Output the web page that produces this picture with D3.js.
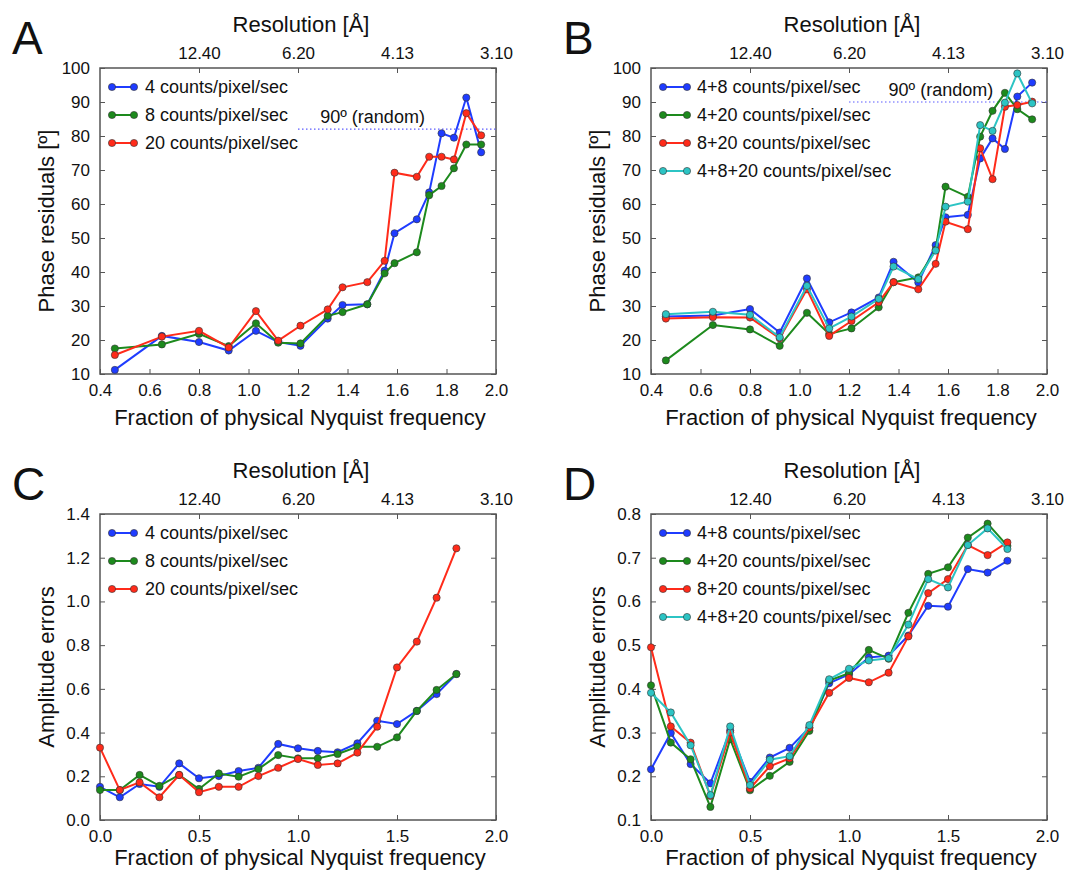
<!DOCTYPE html>
<html>
<head>
<meta charset="utf-8">
<script src="https://cdn.jsdelivr.net/npm/d3@7"></script>
<style>
  body { margin: 0; background: #fff; }
  text { font-family: "Liberation Sans", Arial, Helvetica, sans-serif; fill: #111; }
</style>
</head>
<body>
<svg id="fig" width="1071" height="872"></svg>
<script>
// x positions (fraction of physical Nyquist)
var fracAB = [0.46, 0.65, 0.80, 0.92, 1.03, 1.12, 1.21, 1.32, 1.38, 1.48, 1.55, 1.59, 1.68, 1.73, 1.78, 1.83, 1.88, 1.94];
var fracCD = [0.0, 0.1, 0.2, 0.3, 0.4, 0.5, 0.6, 0.7, 0.8, 0.9, 1.0, 1.1, 1.2, 1.3, 1.4, 1.5, 1.6, 1.7, 1.8];

// panel A: phase residuals, single dose rates
var phaseA4  = [11.2, 21.2, 19.4, 16.9, 22.7, 19.4, 18.3, 26.3, 30.3, 30.5, 40.4, 51.4, 55.5, 63.4, 80.8, 79.5, 91.3, 75.2];
var phaseA8  = [17.5, 18.7, 21.8, 18.2, 24.9, 19.2, 19.0, 27.1, 28.2, 30.5, 39.6, 42.6, 45.8, 62.6, 65.3, 70.5, 77.5, 77.5];
var phaseA20 = [15.6, 21.0, 22.7, 17.8, 28.5, 19.8, 24.2, 29.0, 35.5, 37.0, 43.3, 69.2, 68.0, 73.9, 73.9, 73.1, 86.7, 80.2];

// panel B: phase residuals, combined dose rates
var phaseB48   = [26.9, 27.2, 29.1, 22.2, 38.1, 25.2, 28.1, 32.5, 43.0, 36.9, 47.9, 56.1, 56.8, 73.4, 79.3, 76.2, 91.6, 95.7];
var phaseB420  = [14.0, 24.4, 23.1, 18.3, 28.0, 21.8, 23.4, 29.6, 37.0, 38.4, 46.5, 65.1, 62.1, 79.8, 87.4, 92.7, 87.9, 84.9];
var phaseB820  = [26.3, 26.7, 26.6, 20.5, 34.9, 21.2, 25.6, 31.1, 37.0, 34.9, 42.4, 54.8, 52.6, 76.4, 67.3, 88.6, 89.1, 90.1];
var phaseB4820 = [27.6, 28.3, 27.4, 20.8, 35.9, 23.4, 26.9, 32.1, 41.6, 37.9, 46.3, 59.2, 60.7, 83.2, 81.5, 89.8, 98.4, 89.6];

// panel C: amplitude errors, single dose rates
var ampC4  = [0.152, 0.104, 0.165, 0.152, 0.259, 0.191, 0.201, 0.224, 0.239, 0.348, 0.328, 0.316, 0.310, 0.351, 0.454, 0.439, 0.499, 0.576, 0.668];
var ampC8  = [0.137, 0.137, 0.206, 0.156, 0.206, 0.142, 0.213, 0.198, 0.233, 0.297, 0.282, 0.282, 0.302, 0.335, 0.335, 0.378, 0.499, 0.595, 0.668];
var ampC20 = [0.331, 0.137, 0.172, 0.104, 0.206, 0.127, 0.152, 0.152, 0.201, 0.239, 0.279, 0.252, 0.259, 0.308, 0.427, 0.698, 0.816, 1.017, 1.243];

// panel D: amplitude errors, combined dose rates
var ampD48   = [0.216, 0.299, 0.228, 0.184, 0.305, 0.187, 0.243, 0.265, 0.311, 0.413, 0.433, 0.472, 0.476, 0.522, 0.590, 0.588, 0.674, 0.666, 0.693];
var ampD420  = [0.408, 0.277, 0.239, 0.130, 0.285, 0.168, 0.201, 0.233, 0.304, 0.419, 0.436, 0.489, 0.469, 0.574, 0.663, 0.678, 0.746, 0.778, 0.727];
var ampD820  = [0.495, 0.314, 0.277, 0.155, 0.300, 0.172, 0.223, 0.241, 0.311, 0.391, 0.425, 0.415, 0.437, 0.520, 0.619, 0.651, 0.729, 0.706, 0.735];
var ampD4820 = [0.391, 0.346, 0.271, 0.157, 0.314, 0.180, 0.238, 0.246, 0.317, 0.422, 0.446, 0.465, 0.470, 0.547, 0.651, 0.632, 0.729, 0.767, 0.720];

var namesSingle = ["4 counts/pixel/sec", "8 counts/pixel/sec", "20 counts/pixel/sec"];
var namesCombined = ["4+8 counts/pixel/sec", "4+20 counts/pixel/sec", "8+20 counts/pixel/sec", "4+8+20 counts/pixel/sec"];

var resTicks = [0.5, 1.0, 1.5, 2.0];
var resLabels = ["12.40", "6.20", "4.13", "3.10"];
var xTicksAB = [0.4, 0.6, 0.8, 1.0, 1.2, 1.4, 1.6, 1.8, 2.0];
var xTicksCD = [0.0, 0.5, 1.0, 1.5, 2.0];
var yTicksPhase = [10, 20, 30, 40, 50, 60, 70, 80, 90, 100];
var yTicksC = [0.0, 0.2, 0.4, 0.6, 0.8, 1.0, 1.2, 1.4];
var yTicksD = [0.1, 0.2, 0.3, 0.4, 0.5, 0.6, 0.7, 0.8];
var randomLevelA = 82;
var randomLevelB = 90;

var COLORS = ["#1f3cff", "#1d8a1d", "#ff2b1a", "#2cc4c4"];
var PLOT_W = 396, PLOT_H = 306;

function main() {
    var svg = d3.select("#fig");
    svg.append("rect").attr("width", 1071).attr("height", 872).attr("fill", "#fff");

    drawPanel(svg, {
        letter: "A", left: 100, top: 68, xTitleGap: 51,
        xDomain: [0.4, 2.0], xTicks: xTicksAB, xFmt: d3.format(".1f"),
        yDomain: [10, 100], yTicks: yTicksPhase, yFmt: d3.format("d"),
        yTitle: "Phase residuals [\u00ba]",
        x: fracAB, series: [phaseA4, phaseA8, phaseA20], names: namesSingle,
        legendLine: [12, 34], legendText: 45,
        randomLevel: randomLevelA, randomTextX: 1.29
    });
    drawPanel(svg, {
        letter: "B", left: 651, top: 68, xTitleGap: 51,
        xDomain: [0.4, 2.0], xTicks: xTicksAB, xFmt: d3.format(".1f"),
        yDomain: [10, 100], yTicks: yTicksPhase, yFmt: d3.format("d"),
        yTitle: "Phase residuals [\u00ba]",
        x: fracAB, series: [phaseB48, phaseB420, phaseB820, phaseB4820], names: namesCombined,
        legendLine: [12, 36], legendText: 46,
        randomLevel: randomLevelB, randomTextX: 1.36
    });
    drawPanel(svg, {
        letter: "C", left: 100, top: 514, xTitleGap: 45,
        xDomain: [0, 2.0], xTicks: xTicksCD, xFmt: d3.format(".1f"),
        yDomain: [0, 1.4], yTicks: yTicksC, yFmt: d3.format(".1f"),
        yTitle: "Amplitude errors",
        x: fracCD, series: [ampC4, ampC8, ampC20], names: namesSingle,
        legendLine: [12, 34], legendText: 45
    });
    drawPanel(svg, {
        letter: "D", left: 651, top: 514, xTitleGap: 45,
        xDomain: [0, 2.0], xTicks: xTicksCD, xFmt: d3.format(".1f"),
        yDomain: [0.1, 0.8], yTicks: yTicksD, yFmt: d3.format(".1f"),
        yTitle: "Amplitude errors",
        x: fracCD, series: [ampD48, ampD420, ampD820, ampD4820], names: namesCombined,
        legendLine: [12, 36], legendText: 46
    });
}

function drawPanel(svg, cfg) {
    var g = svg.append("g")
        .attr("transform", "translate(" + cfg.left + "," + cfg.top + ")");

    var x = d3.scaleLinear().domain(cfg.xDomain).range([0, PLOT_W]);
    var y = d3.scaleLinear().domain(cfg.yDomain).range([PLOT_H, 0]);
    // the resolution axis on top spans 0..2 Nyquist over the same width
    var xTop = d3.scaleLinear().domain([0, 2.0]).range([0, PLOT_W]);

    // axes, ticks pointing inward
    g.append("g")
        .attr("class", "axis")
        .attr("transform", "translate(0," + PLOT_H + ")")
        .call(d3.axisBottom(x).tickValues(cfg.xTicks).tickFormat(cfg.xFmt)
              .tickSizeInner(-5).tickSizeOuter(0).tickPadding(10));
    g.append("g")
        .attr("class", "axis")
        .call(d3.axisTop(xTop).tickValues(resTicks)
              .tickFormat(function(d, i) { return resLabels[i]; })
              .tickSizeInner(-5).tickSizeOuter(0).tickPadding(9));
    g.append("g")
        .attr("class", "axis")
        .call(d3.axisLeft(y).tickValues(cfg.yTicks).tickFormat(cfg.yFmt)
              .tickSizeInner(-5).tickSizeOuter(0).tickPadding(10));
    g.append("g")
        .attr("class", "axis")
        .attr("transform", "translate(" + PLOT_W + ",0)")
        .call(d3.axisRight(y).tickValues(cfg.yTicks).tickFormat("")
              .tickSizeInner(-5).tickSizeOuter(0));

    g.selectAll(".axis .domain").remove();
    g.selectAll(".axis line").attr("stroke", "#555").attr("stroke-width", 1);
    g.selectAll(".axis text")
        .style("font-family", "'Liberation Sans', Arial, sans-serif")
        .style("font-size", "17px")
        .attr("fill", "#111");

    // frame
    g.append("rect")
        .attr("width", PLOT_W).attr("height", PLOT_H)
        .attr("fill", "none").attr("stroke", "#555").attr("stroke-width", 1.5);

    // titles
    g.append("text")
        .attr("x", PLOT_W / 2 + 3).attr("y", -36)
        .attr("text-anchor", "middle").style("font-size", "22px")
        .text("Resolution [\u00c5]");
    g.append("text")
        .attr("x", PLOT_W / 2 + 2).attr("y", PLOT_H + cfg.xTitleGap)
        .attr("text-anchor", "middle").style("font-size", "22px")
        .text("Fraction of physical Nyquist frequency");
    g.append("text")
        .attr("transform", "translate(-46," + (PLOT_H / 2) + ") rotate(-90)")
        .attr("text-anchor", "middle").style("font-size", "22px")
        .text(cfg.yTitle);
    g.append("text")
        .attr("x", -88).attr("y", -14)
        .style("font-size", "46px")
        .text(cfg.letter);

    // 90 degree reference
    if (cfg.randomLevel !== undefined) {
        g.append("line")
            .attr("x1", x(1.2)).attr("x2", PLOT_W)
            .attr("y1", y(cfg.randomLevel)).attr("y2", y(cfg.randomLevel))
            .attr("stroke", "#5c5cff").attr("stroke-width", 1.2)
            .attr("stroke-dasharray", "1.5,2.5");
        g.append("text")
            .attr("x", x(cfg.randomTextX)).attr("y", y(cfg.randomLevel) - 6)
            .style("font-size", "18px")
            .text("90\u00ba (random)");
    }

    var line = d3.line()
        .x(function(d) { return x(d[0]); })
        .y(function(d) { return y(d[1]); });

    cfg.series.forEach(function(vals, k) {
        var pts = vals.map(function(v, i) { return [cfg.x[i], v]; });
        var s = g.append("g").attr("class", "series");
        s.append("path")
            .attr("d", line(pts))
            .attr("fill", "none")
            .attr("stroke", COLORS[k])
            .attr("stroke-width", 2);
        s.selectAll("circle")
            .data(pts)
            .enter().append("circle")
            .attr("cx", function(d) { return x(d[0]); })
            .attr("cy", function(d) { return y(d[1]); })
            .attr("r", 3.6)
            .attr("fill", COLORS[k])
            .attr("stroke", "#333").attr("stroke-width", 0.6);
    });

    // legend
    var legend = g.selectAll(".legend")
        .data(cfg.names)
        .enter().append("g")
        .attr("class", "legend")
        .attr("transform", function(d, i) { return "translate(0," + (19 + 28 * i) + ")"; });
    legend.append("line")
        .attr("x1", cfg.legendLine[0]).attr("x2", cfg.legendLine[1])
        .attr("stroke", function(d, i) { return COLORS[i]; })
        .attr("stroke-width", 2);
    legend.selectAll("circle")
        .data(function(d, i) { return [[cfg.legendLine[0], i], [cfg.legendLine[1], i]]; })
        .enter().append("circle")
        .attr("cx", function(d) { return d[0]; })
        .attr("r", 3.6)
        .attr("fill", function(d) { return COLORS[d[1]]; })
        .attr("stroke", "#333").attr("stroke-width", 0.6);
    legend.append("text")
        .attr("x", cfg.legendText).attr("dy", "0.35em")
        .style("font-size", "18px")
        .text(function(d) { return d; });
}

main();
</script>
</body>
</html>
